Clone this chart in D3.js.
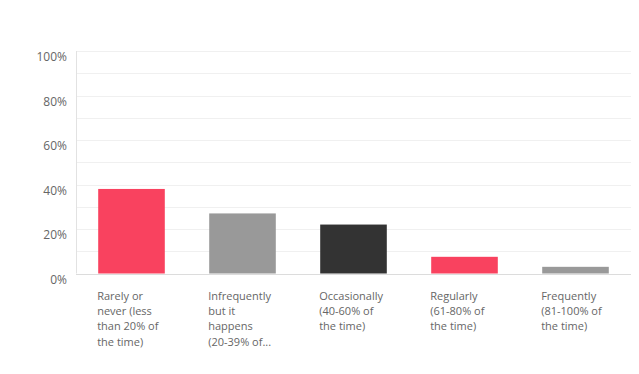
<!DOCTYPE html>
<html>
<head>
<meta charset="utf-8">
<script src="https://cdn.jsdelivr.net/npm/d3@7"></script>
<style>
  body { margin: 0; background: #fff; }
  svg { display: block; font-family: "Open Sans", "Noto Sans", sans-serif; }
  .tick-label { fill: #666; font-size: 12px; }
  .cat-label { fill: #666; font-size: 11px; }
</style>
</head>
<body>
<svg id="chart" width="639" height="374"></svg>
<script>
var categories = [
  ["Rarely or", "never (less", "than 20% of", "the time)"],
  ["Infrequently", "but it", "happens", "(20-39% of..."],
  ["Occasionally", "(40-60% of", "the time)"],
  ["Regularly", "(61-80% of", "the time)"],
  ["Frequently", "(81-100% of", "the time)"]
];
var values = [38, 27, 22, 7.5, 3];
var colors = ["#f9425f", "#999999", "#333333", "#f9425f", "#999999"];
var yTicks = [0, 20, 40, 60, 80, 100];
var gridTicks = [10, 20, 30, 40, 50, 60, 70, 80, 90, 100];

var svg = d3.select("#chart"),
    MARGINS = { top: 51, right: 8, bottom: 100, left: 76 },
    WIDTH = 639, HEIGHT = 374;

var xScale = d3.scaleBand()
    .domain(d3.range(values.length))
    .range([MARGINS.left, WIDTH - MARGINS.right])
    .paddingInner(0.4)
    .paddingOuter(0.2);

var yScale = d3.scaleLinear()
    .domain([0, 100])
    .range([273.5, MARGINS.top]);

// gridlines
svg.append("g")
   .selectAll("line")
   .data(gridTicks)
   .enter().append("line")
   .attr("x1", MARGINS.left)
   .attr("x2", WIDTH - MARGINS.right)
   .attr("y1", function(d) { return Math.round(yScale(d)) + 0.5; })
   .attr("y2", function(d) { return Math.round(yScale(d)) + 0.5; })
   .attr("stroke", "#f0f0f0")
   .attr("stroke-width", 1);

// baseline
svg.append("line")
   .attr("x1", MARGINS.left)
   .attr("x2", WIDTH - MARGINS.right)
   .attr("y1", Math.round(yScale(0)) + 0.5)
   .attr("y2", Math.round(yScale(0)) + 0.5)
   .attr("stroke", "#dcdcdc");

// y axis line
svg.append("line")
   .attr("x1", MARGINS.left + 0.5)
   .attr("x2", MARGINS.left + 0.5)
   .attr("y1", yScale(100))
   .attr("y2", yScale(0))
   .attr("stroke", "#e2e2e2");

// y tick labels (sit slightly below their gridline)
svg.append("g")
   .selectAll("text")
   .data(yTicks)
   .enter().append("text")
   .attr("class", "tick-label")
   .attr("x", 67)
   .attr("y", function(d) { return yScale(d) + 10; })
   .attr("text-anchor", "end")
   .text(function(d) { return d + "%"; });

// bars
svg.append("g")
   .selectAll("rect")
   .data(values)
   .enter().append("rect")
   .attr("x", function(d, i) { return xScale(i); })
   .attr("y", function(d) { return yScale(d); })
   .attr("width", xScale.bandwidth())
   .attr("height", function(d) { return yScale(0) - yScale(d); })
   .attr("fill", function(d, i) { return colors[i]; });

// category labels
var labels = svg.append("g")
   .selectAll("text")
   .data(categories)
   .enter().append("text")
   .attr("class", "cat-label")
   .attr("x", function(d, i) { return xScale(i) - 1; })
   .attr("y", 300);

labels.selectAll("tspan")
   .data(function(d) { return d; })
   .enter().append("tspan")
   .attr("x", function() { return d3.select(this.parentNode).attr("x"); })
   .attr("dy", function(d, i) { return i === 0 ? 0 : 15.2; })
   .text(function(d) { return d; });
</script>
</body>
</html>
